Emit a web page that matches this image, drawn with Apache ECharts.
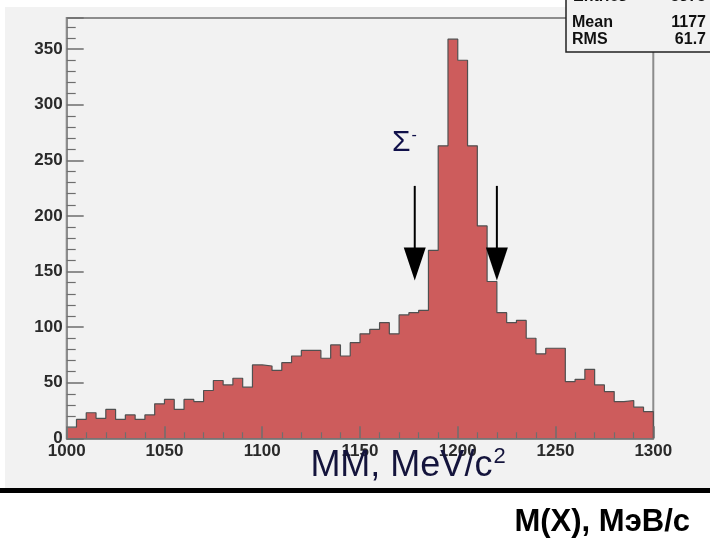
<!DOCTYPE html>
<html>
<head>
<meta charset="utf-8">
<script src="https://cdn.jsdelivr.net/npm/echarts@6/dist/echarts.min.js"></script>
<style>
html,body{margin:0;padding:0;background:#fff;}
#chart{width:710px;height:543px;}
</style>
</head>
<body>
<div id="chart"></div>
<script>
// ---- data ----
const binStart = 1000;
const binWidth = 5;
const counts = [10, 17, 23, 18, 26, 17, 21, 17, 21, 31,
                35, 26, 35, 33, 43, 52, 48, 54, 46, 66,
                65, 61, 68, 74, 79, 79, 72, 84, 74, 86,
                94, 98, 104, 94, 111, 113, 115, 169, 263, 359,
                340, 263, 191, 141, 113, 104, 106, 90, 76, 81,
                81, 51, 53, 62, 48, 42, 33, 34, 28, 24];
const xTicks = [1000, 1050, 1100, 1150, 1200, 1250, 1300];
const yTicks = [0, 50, 100, 150, 200, 250, 300, 350];
const arrowX = [1178, 1220];
const arrowTop = 227;
const arrowTip = 142;
const statsLabels = ['Entries', 'Mean', 'RMS'];
const statsValues = ['5375', '1177', '61.7'];
const xTitle = 'MM, MeV/c';
const bottomTitle = 'M(X), МэВ/с';

// ---- build step outline ----
const stepData = [[binStart, 0]];
counts.forEach((c, i) => stepData.push([binStart + i * binWidth, c]));
stepData.push([binStart + counts.length * binWidth, counts[counts.length - 1]]);
stepData.push([binStart + counts.length * binWidth, 0]);

const chart = echarts.init(document.getElementById('chart'), null, {renderer: 'canvas'});

const tickColor = '#6e6e6e';
const labelFont = {fontSize: 17, fontWeight: 'bold', color: '#2a2a2a', fontFamily: 'Liberation Sans'};
const option = {
  backgroundColor: '#ffffff',
  animation: false,
  grid: {
    left: 66.7, top: 18, right: 56.7, bottom: 104.7,
    show: true, backgroundColor: '#f2f2f2', borderColor: '#8c8c8c', borderWidth: 2
  },
  xAxis: {
    type: 'value', min: xTicks[0], max: xTicks[xTicks.length - 1], interval: 50, z: 10,
    axisLine: {show: true, lineStyle: {color: '#6e6e6e', width: 1.5}},
    axisTick: {show: true, inside: true, length: 12, lineStyle: {color: tickColor, width: 1.5}},
    minorTick: {show: true, splitNumber: 5, length: 6, lineStyle: {color: tickColor, width: 1.2}},
    splitLine: {show: false},
    axisLabel: Object.assign({margin: 5, formatter: v => String(v)}, labelFont)
  },
  yAxis: {
    type: 'value', min: yTicks[0], max: 378, interval: 50, z: 10,
    axisLine: {show: true, lineStyle: {color: '#8c8c8c', width: 2}},
    axisTick: {show: true, inside: true, length: 17, lineStyle: {color: tickColor, width: 1.5}},
    minorTick: {show: true, splitNumber: 5, length: 9, lineStyle: {color: tickColor, width: 1.2}},
    splitLine: {show: false},
    axisLabel: Object.assign({margin: 4, showMaxLabel: false, formatter: v => String(v)}, labelFont)
  },
  series: [
    {
      type: 'line', step: 'end', data: stepData, symbol: 'none', z: 2,
      lineStyle: {color: '#505050', width: 1.2},
      areaStyle: {color: '#cd5c5c', opacity: 1}
    },
    {
      type: 'custom', z: 12,
      data: arrowX.map(x => [x, arrowTop, arrowTip]),
      renderItem: function (params, api) {
        const top = api.coord([api.value(0), api.value(1)]);
        const tip = api.coord([api.value(0), api.value(2)]);
        const hw = 11, hh = 33;
        return {
          type: 'group',
          children: [
            {type: 'line', shape: {x1: top[0], y1: top[1], x2: tip[0], y2: tip[1] - hh + 2},
             style: {stroke: '#000', lineWidth: 2}},
            {type: 'polygon', shape: {points: [[tip[0] - hw, tip[1] - hh], [tip[0] + hw, tip[1] - hh], [tip[0], tip[1]]]},
             style: {fill: '#000'}}
          ]
        };
      }
    }
  ],
  graphic: [
    {type: 'rect', z: -10, shape: {x: 5, y: 7, width: 710, height: 481}, style: {fill: '#f2f2f2'}},
    {type: 'rect', z: 20, shape: {x: 0, y: 488, width: 710, height: 5}, style: {fill: '#000'}},
    // stats box
    {type: 'rect', z: 20, shape: {x: 566, y: -20, width: 160, height: 72}, style: {fill: '#f2f2f2', stroke: '#222', lineWidth: 1.5}},
    {type: 'text', z: 21, style: {text: statsLabels[0], x: 573, y: -3, fontSize: 16, fontWeight: 'bold', fontFamily: 'Liberation Sans', fill: '#111', textVerticalAlign: 'middle'}},
    {type: 'text', z: 21, style: {text: statsValues[0], x: 706, y: -3, fontSize: 16, fontWeight: 'bold', fontFamily: 'Liberation Sans', fill: '#111', textAlign: 'right', textVerticalAlign: 'middle'}},
    {type: 'text', z: 21, style: {text: statsLabels[1], x: 572, y: 23, fontSize: 16, fontWeight: 'bold', fontFamily: 'Liberation Sans', fill: '#111', textVerticalAlign: 'middle'}},
    {type: 'text', z: 21, style: {text: statsValues[1], x: 706, y: 23, fontSize: 16, fontWeight: 'bold', fontFamily: 'Liberation Sans', fill: '#111', textAlign: 'right', textVerticalAlign: 'middle'}},
    {type: 'text', z: 21, style: {text: statsLabels[2], x: 572, y: 40, fontSize: 16, fontWeight: 'bold', fontFamily: 'Liberation Sans', fill: '#111', textVerticalAlign: 'middle'}},
    {type: 'text', z: 21, style: {text: statsValues[2], x: 706, y: 40, fontSize: 16, fontWeight: 'bold', fontFamily: 'Liberation Sans', fill: '#111', textAlign: 'right', textVerticalAlign: 'middle'}},
    // sigma label
    {type: 'text', z: 21, style: {
      text: '{s|Σ}{m|-}', x: 392, y: 128,
      rich: {s: {fontSize: 30, fontFamily: 'Liberation Sans', fill: '#10104a', verticalAlign: 'bottom'},
             m: {fontSize: 16, fontFamily: 'Liberation Sans', fill: '#10104a', verticalAlign: 'top', padding: [0, 0, 14, 1]}}
    }},
    // x title
    {type: 'text', z: 21, style: {
      text: '{t|' + xTitle + '}{s|2}', x: 408, y: 484, textAlign: 'center', textVerticalAlign: 'bottom',
      rich: {t: {fontSize: 36, fontFamily: 'Liberation Sans', fill: '#14143c', verticalAlign: 'bottom'},
             s: {fontSize: 22, fontFamily: 'Liberation Sans', fill: '#14143c', verticalAlign: 'bottom', padding: [0, 0, 16, 1]}}
    }},
    // bottom title
    {type: 'text', z: 21, style: {text: bottomTitle, x: 690, y: 522, textAlign: 'right', textVerticalAlign: 'middle',
      fontSize: 31, fontWeight: 'bold', fontFamily: 'Liberation Sans', fill: '#000'}}
  ]
};
chart.setOption(option);
</script>
</body>
</html>
